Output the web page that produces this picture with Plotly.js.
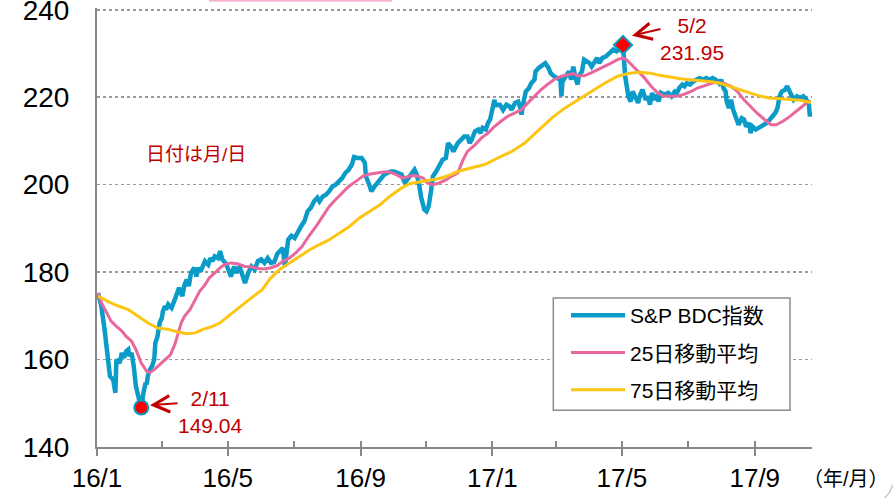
<!DOCTYPE html>
<html>
<head>
<meta charset="utf-8">
<script src="https://cdn.plot.ly/plotly-3.0.1.min.js"></script>
<style>html,body{margin:0;padding:0;background:#fff;}#chart{width:893px;height:498px;}</style>
</head>
<body>
<div id="chart"></div>
<script>
// ---- data ----
const bdcDates = ['2016-01-02','2016-01-05','2016-01-08','2016-01-11','2016-01-13','2016-01-16','2016-01-18','2016-01-19','2016-01-22','2016-01-24','2016-01-26','2016-01-28','2016-01-30','2016-01-31','2016-02-02','2016-02-04','2016-02-06','2016-02-09','2016-02-11','2016-02-13','2016-02-15','2016-02-16','2016-02-17','2016-02-19','2016-02-21','2016-02-23','2016-02-24','2016-02-26','2016-02-28','2016-03-01','2016-03-02','2016-03-04','2016-03-05','2016-03-07','2016-03-10','2016-03-13','2016-03-15','2016-03-17','2016-03-20','2016-03-22','2016-03-24','2016-03-26','2016-03-28','2016-03-31','2016-04-02','2016-04-04','2016-04-06','2016-04-10','2016-04-13','2016-04-15','2016-04-17','2016-04-19','2016-04-22','2016-04-24','2016-04-26','2016-04-29','2016-05-01','2016-05-04','2016-05-07','2016-05-09','2016-05-12','2016-05-15','2016-05-17','2016-05-20','2016-05-23','2016-05-26','2016-05-29','2016-06-01','2016-06-04','2016-06-07','2016-06-10','2016-06-13','2016-06-16','2016-06-21','2016-06-23','2016-06-26','2016-06-29','2016-07-02','2016-07-05','2016-07-08','2016-07-11','2016-07-14','2016-07-17','2016-07-20','2016-07-23','2016-07-25','2016-07-28','2016-07-31','2016-08-03','2016-08-06','2016-08-09','2016-08-12','2016-08-15','2016-08-18','2016-08-21','2016-08-24','2016-08-26','2016-08-29','2016-09-02','2016-09-05','2016-09-06','2016-09-09','2016-09-11','2016-09-14','2016-09-17','2016-09-20','2016-09-23','2016-09-26','2016-09-29','2016-10-02','2016-10-06','2016-10-09','2016-10-12','2016-10-15','2016-10-18','2016-10-21','2016-10-23','2016-10-25','2016-10-27','2016-10-30','2016-11-01','2016-11-03','2016-11-05','2016-11-07','2016-11-10','2016-11-13','2016-11-16','2016-11-19','2016-11-21','2016-11-24','2016-11-26','2016-11-30','2016-12-03','2016-12-06','2016-12-09','2016-12-11','2016-12-13','2016-12-16','2016-12-19','2016-12-21','2016-12-23','2016-12-26','2016-12-28','2016-12-30','2017-01-03','2017-01-04','2017-01-05','2017-01-08','2017-01-11','2017-01-14','2017-01-17','2017-01-19','2017-01-22','2017-01-25','2017-01-27','2017-01-28','2017-01-30','2017-02-01','2017-02-04','2017-02-06','2017-02-09','2017-02-10','2017-02-13','2017-02-16','2017-02-19','2017-02-22','2017-02-24','2017-02-27','2017-03-02','2017-03-05','2017-03-06','2017-03-07','2017-03-10','2017-03-13','2017-03-15','2017-03-17','2017-03-19','2017-03-21','2017-03-22','2017-03-25','2017-03-27','2017-03-29','2017-04-01','2017-04-03','2017-04-06','2017-04-08','2017-04-10','2017-04-13','2017-04-16','2017-04-20','2017-04-23','2017-04-26','2017-04-29','2017-05-02','2017-05-03','2017-05-04','2017-05-07','2017-05-09','2017-05-11','2017-05-14','2017-05-16','2017-05-18','2017-05-20','2017-05-23','2017-05-25','2017-05-27','2017-05-29','2017-05-31','2017-06-02','2017-06-04','2017-06-06','2017-06-09','2017-06-13','2017-06-16','2017-06-19','2017-06-21','2017-06-23','2017-06-26','2017-06-28','2017-06-30','2017-07-03','2017-07-06','2017-07-09','2017-07-12','2017-07-15','2017-07-18','2017-07-21','2017-07-24','2017-07-27','2017-07-30','2017-08-01','2017-08-03','2017-08-05','2017-08-06','2017-08-08','2017-08-10','2017-08-12','2017-08-15','2017-08-17','2017-08-20','2017-08-22','2017-08-24','2017-08-27','2017-08-28','2017-08-30','2017-09-02','2017-09-05','2017-09-08','2017-09-12','2017-09-15','2017-09-18','2017-09-20','2017-09-22','2017-09-24','2017-09-26','2017-09-29','2017-10-01','2017-10-03','2017-10-05','2017-10-07','2017-10-10','2017-10-13','2017-10-16','2017-10-19','2017-10-21','2017-10-22','2017-10-23'];
const bdcValues = [175.2,172.2,166.9,159.2,156.2,155.4,152.4,160.0,159.2,161.5,160.4,161.9,162.3,160.8,161.5,158.5,153.9,150.9,149.04,152.4,154.7,154.3,156.2,157.7,158.5,160.0,163.8,165.3,168.4,169.5,171.0,172.2,171.4,172.6,171.8,173.7,175.2,176.4,174.5,177.1,178.3,176.8,179.8,181.0,179.0,181.0,180.2,182.5,181.7,183.2,182.5,183.6,183.2,184.8,182.9,182.1,181.0,179.0,181.3,179.8,181.3,179.0,177.5,179.8,181.3,180.6,182.5,182.9,182.1,183.2,182.1,182.3,184.2,185.5,181.3,187.4,188.3,187.8,189.3,190.5,191.6,193.9,194.7,196.2,197.0,196.2,197.3,197.7,198.5,199.6,200.0,200.8,201.5,202.7,203.4,204.6,206.3,206.1,206.1,205.0,201.9,200.0,198.5,199.6,200.4,201.5,202.3,202.7,203.0,203.0,202.7,202.3,200.4,201.5,202.3,203.4,202.3,200.4,197.3,194.3,193.9,195.0,198.1,201.9,203.0,204.2,205.7,206.1,209.5,208.6,207.6,209.5,210.3,211.0,211.0,209.5,210.3,212.2,212.6,211.8,213.0,212.6,214.1,214.9,219.4,217.9,218.3,218.3,217.1,218.3,217.9,217.1,218.7,219.0,217.5,216.0,219.0,221.3,222.1,223.2,224.0,225.9,226.7,227.4,227.8,226.7,225.5,224.8,224.4,224.0,220.2,223.6,224.8,225.9,224.0,227.0,224.4,222.9,224.8,225.9,228.6,228.2,227.8,227.0,228.2,229.0,227.8,229.0,229.3,230.1,230.9,230.5,231.0,231.95,227.8,224.8,220.2,219.0,221.3,219.8,218.7,220.6,221.7,219.4,220.2,218.3,221.0,219.4,220.6,219.0,221.0,220.6,221.0,220.2,221.3,221.0,222.1,222.9,222.5,223.2,222.9,223.6,224.0,224.4,224.0,224.4,224.0,224.4,224.0,223.2,224.0,222.1,221.3,219.0,217.5,219.4,217.1,214.5,213.7,215.2,214.9,213.3,214.1,211.8,213.3,212.6,213.0,213.3,214.1,214.9,215.6,216.4,217.5,220.2,221.3,221.7,222.5,221.3,220.6,219.4,220.2,219.8,220.2,219.4,218.7,215.6,216.4];

const ma25Dates = ['2016-01-02','2016-01-05','2016-01-10','2016-01-14','2016-01-19','2016-01-24','2016-01-28','2016-02-02','2016-02-06','2016-02-11','2016-02-16','2016-02-19','2016-02-23','2016-02-28','2016-03-04','2016-03-09','2016-03-13','2016-03-16','2016-03-19','2016-03-22','2016-03-27','2016-04-01','2016-04-05','2016-04-10','2016-04-14','2016-04-19','2016-04-24','2016-04-28','2016-05-04','2016-05-10','2016-05-17','2016-05-23','2016-05-29','2016-06-04','2016-06-10','2016-06-16','2016-06-21','2016-06-27','2016-07-03','2016-07-09','2016-07-15','2016-07-22','2016-07-28','2016-08-03','2016-08-09','2016-08-15','2016-08-21','2016-08-28','2016-09-03','2016-09-09','2016-09-15','2016-09-22','2016-09-28','2016-10-04','2016-10-10','2016-10-16','2016-10-22','2016-10-29','2016-11-02','2016-11-07','2016-11-13','2016-11-19','2016-11-24','2016-11-30','2016-12-05','2016-12-09','2016-12-16','2016-12-22','2016-12-28','2017-01-03','2017-01-09','2017-01-15','2017-01-22','2017-01-28','2017-02-03','2017-02-09','2017-02-15','2017-02-21','2017-02-27','2017-03-06','2017-03-12','2017-03-17','2017-03-21','2017-03-27','2017-04-02','2017-04-09','2017-04-15','2017-04-21','2017-04-27','2017-05-02','2017-05-06','2017-05-10','2017-05-16','2017-05-22','2017-05-28','2017-06-03','2017-06-09','2017-06-16','2017-06-22','2017-06-28','2017-07-04','2017-07-10','2017-07-16','2017-07-22','2017-07-28','2017-08-03','2017-08-10','2017-08-16','2017-08-22','2017-08-28','2017-09-03','2017-09-10','2017-09-16','2017-09-21','2017-09-27','2017-10-03','2017-10-10','2017-10-16','2017-10-20','2017-10-23'];
const ma25Values = [175.2,173.0,170.7,168.8,167.6,166.5,165.3,164.2,162.3,159.2,157.3,157.0,157.7,158.9,160.0,161.1,163.4,166.1,168.4,169.9,171.4,173.7,175.6,177.1,178.7,179.8,181.0,181.7,182.1,181.9,181.3,181.2,180.8,180.7,181.0,181.5,182.5,183.2,184.4,185.9,188.2,190.5,192.8,195.0,196.6,198.1,199.6,200.8,201.9,202.4,202.7,202.9,202.9,202.3,201.5,201.9,202.1,201.5,200.4,200.0,200.4,201.1,201.9,202.7,205.7,207.6,209.1,210.7,211.8,213.3,214.5,215.6,216.4,217.1,218.7,220.2,221.7,222.9,224.0,224.8,225.1,225.4,224.9,224.9,225.5,226.3,227.0,227.8,228.6,229.0,228.4,227.4,225.9,224.4,222.5,221.0,220.2,220.2,220.3,220.7,221.3,222.1,222.6,223.1,223.4,223.2,222.5,221.3,219.4,217.9,216.4,214.9,213.7,213.7,214.5,215.5,216.8,218.1,219.0,219.0];

const ma75Dates = ['2016-01-02','2016-01-11','2016-01-20','2016-01-30','2016-02-08','2016-02-17','2016-02-26','2016-03-07','2016-03-16','2016-03-24','2016-04-01','2016-04-08','2016-04-16','2016-04-24','2016-05-01','2016-05-09','2016-05-17','2016-05-25','2016-06-02','2016-06-09','2016-06-18','2016-06-27','2016-07-07','2016-07-16','2016-07-25','2016-08-03','2016-08-13','2016-08-22','2016-08-31','2016-09-09','2016-09-19','2016-09-28','2016-10-07','2016-10-16','2016-10-26','2016-11-04','2016-11-13','2016-11-22','2016-11-30','2016-12-12','2016-12-25','2017-01-06','2017-01-19','2017-01-31','2017-02-12','2017-02-25','2017-03-09','2017-03-21','2017-04-02','2017-04-15','2017-04-27','2017-05-08','2017-05-18','2017-05-27','2017-06-05','2017-06-15','2017-06-24','2017-07-03','2017-07-12','2017-07-21','2017-07-31','2017-08-09','2017-08-18','2017-08-27','2017-09-05','2017-09-15','2017-09-24','2017-10-03','2017-10-13','2017-10-23'];
const ma75Values = [174.5,173.3,172.3,171.4,169.9,168.4,167.2,166.9,166.3,165.9,166.1,166.9,167.5,168.4,169.8,171.4,173.1,174.5,176.0,178.4,180.6,182.1,183.6,185.1,186.3,187.4,189.0,190.5,192.4,193.9,195.4,197.3,198.9,200.2,200.6,200.9,201.4,202.1,203.0,203.8,204.6,206.1,207.6,209.5,212.2,215.2,217.5,219.4,221.3,223.2,224.8,225.5,225.7,225.5,225.0,224.5,224.2,224.0,223.8,223.6,223.2,222.5,221.7,221.0,220.3,219.8,219.6,219.4,219.3,218.8];

const seriesNames = ['S&P BDC指数','25日移動平均','75日移動平均'];
const yTicks = [140,160,180,200,220,240];
const lowDate = ['2016-02-11'], lowValue = [149.04];
const highDate = ['2017-05-02'], highValue = [231.95];
const lowLabel = '2/11<br>149.04';
const highLabel = '5/2<br>231.95';
const noteText = '日付は月/日';
const unitText = '（年/月）';

// ---- layout helpers (pixel -> paper) ----
const W = 893, H = 498;
const YMIN = 140, YMAX = 240.4;          // small headroom so the 240 grid line is kept
const PXPU = 4.375;                        // pixels per y unit
const L = 97, R = 812, B = 447.5;
const T = 10 - (YMAX - 240) * PXPU;       // keeps 240 at y = 10 px
const px = x => (x - L) / (R - L);
const py = y => (B - y) / (B - T);

const FONT = '"Liberation Sans", Arial, "Noto Sans CJK JP", sans-serif';
const RED = '#c00000';
const BLUE = '#0a9bc9', PINK = '#e8679d', YELLOW = '#fdc513';
const GREY = '#888';
const XRANGE = ['2016-01-01', '2017-10-24'];

const traces = [
  {x: bdcDates, y: bdcValues, name: seriesNames[0], type: 'scatter', mode: 'lines',
   line: {color: BLUE, width: 4.5}, legendgroup: 'a'},
  {x: ma25Dates, y: ma25Values, name: seriesNames[1], type: 'scatter', mode: 'lines',
   line: {color: PINK, width: 3}, legendgroup: 'b'},
  {x: ma75Dates, y: ma75Values, name: seriesNames[2], type: 'scatter', mode: 'lines',
   line: {color: YELLOW, width: 3}, legendgroup: 'c'},
  {x: lowDate, y: lowValue, type: 'scatter', mode: 'markers', showlegend: false,
   marker: {symbol: 'circle', size: 14, color: '#ff0000', line: {color: BLUE, width: 2}}},
  {x: highDate, y: highValue, type: 'scatter', mode: 'markers', showlegend: false,
   marker: {symbol: 'diamond', size: 14, color: '#ff0000', line: {color: BLUE, width: 2}}},
  // carrier for the inner (every-2-month) tick marks axis
  {x: [bdcDates[0]], y: [bdcValues[0]], xaxis: 'x2', type: 'scatter', mode: 'lines',
   showlegend: false, hoverinfo: 'skip', line: {width: 0}}
];

const layout = {
  width: W, height: H,
  margin: {l: L, r: W - R, t: T, b: H - B},
  paper_bgcolor: '#fff', plot_bgcolor: '#fff',
  font: {family: FONT, color: '#000'},
  showlegend: true,
  legend: {
    x: px(566), y: py(295.5), xanchor: 'left', yanchor: 'top',
    borderwidth: 0, bgcolor: 'rgba(0,0,0,0)',
    itemwidth: 54,
    font: {size: 21, family: FONT, color: '#000'},
    traceorder: 'grouped', tracegroupgap: 7
  },
  xaxis: {
    type: 'date', range: XRANGE,
    tick0: '2016-01-01', dtick: 'M4', tickformat: '%y/%-m',
    ticks: 'outside', ticklen: 7, tickwidth: 2, tickcolor: GREY,
    showline: true, linecolor: GREY, linewidth: 2,
    showgrid: false, zeroline: false,
    tickfont: {size: 26, family: FONT, color: '#000'},
    fixedrange: true
  },
  xaxis2: {
    type: 'date', range: XRANGE, overlaying: 'x', anchor: 'y', side: 'bottom',
    tick0: '2016-01-01', dtick: 'M2',
    ticks: 'inside', ticklen: 6, tickwidth: 2, tickcolor: GREY,
    showticklabels: false, showline: false, showgrid: false, zeroline: false,
    fixedrange: true
  },
  yaxis: {
    range: [YMIN, YMAX], tickmode: 'array', tickvals: yTicks,
    ticks: '', showline: true, linecolor: GREY, linewidth: 2,
    showgrid: true, gridcolor: '#999', griddash: 'dot', gridwidth: 1.5,
    zeroline: false, ticklabelstandoff: 20, ticklabeloverflow: 'allow',
    tickfont: {size: 28, family: FONT, color: '#000'},
    fixedrange: true
  },
  annotations: [
    {xref: 'paper', yref: 'paper', x: px(196), y: py(155), text: noteText, showarrow: false,
     xanchor: 'center', yanchor: 'middle', font: {size: 19, color: RED, family: FONT}},
    {xref: 'paper', yref: 'paper', x: px(846), y: py(480), text: unitText, showarrow: false,
     xanchor: 'center', yanchor: 'middle', font: {size: 20, color: '#000', family: FONT}},
    {xref: 'paper', yref: 'paper', x: px(692), y: py(39), text: highLabel, showarrow: false,
     xanchor: 'center', yanchor: 'middle', font: {size: 21, color: RED, family: FONT}},
    {xref: 'paper', yref: 'paper', x: px(210), y: py(412.5), text: lowLabel, showarrow: false,
     xanchor: 'center', yanchor: 'middle', font: {size: 21, color: RED, family: FONT}},
    {xref: 'paper', yref: 'paper', x: px(632), y: py(36), text: '', showarrow: true,
     ax: 30, ay: -7, arrowhead: 5, arrowsize: 1.6, arrowwidth: 2, arrowcolor: RED},
    {xref: 'paper', yref: 'paper', x: px(150), y: py(405.7), text: '', showarrow: true,
     ax: 29, ay: -2, arrowhead: 5, arrowsize: 1.6, arrowwidth: 2, arrowcolor: RED}
  ],
  shapes: [
    // legend frame
    {type: 'rect', xref: 'paper', yref: 'paper', layer: 'above',
     x0: px(553.3), x1: px(790), y0: py(298.3), y1: py(410.7),
     fillcolor: '#fff', line: {color: '#8c8c8c', width: 1.5}},
    {type: 'line', xref: 'paper', yref: 'paper', x0: px(209), x1: px(392), y0: py(0.8), y1: py(0.8),
     line: {color: '#f7b3d2', width: 2.5}},
    {type: 'path', xref: 'paper', yref: 'paper',
     path: 'M ' + px(884) + ' ' + py(499) + ' Q ' + px(890) + ' ' + py(494) + ' ' + px(893) + ' ' + py(485),
     line: {color: '#c8c8c8', width: 1.5}}
  ]
};

Plotly.newPlot('chart', traces, layout, {displayModeBar: false, staticPlot: true});
</script>
</body>
</html>
